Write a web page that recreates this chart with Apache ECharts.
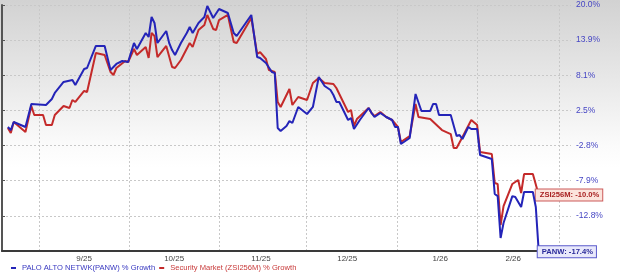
<!DOCTYPE html>
<html>
<head>
<meta charset="utf-8">
<script src="https://cdn.jsdelivr.net/npm/echarts@6/dist/echarts.min.js"></script>
<style>
html,body{margin:0;padding:0;background:#fff;}
#chart{width:620px;height:280px;}
</style>
</head>
<body>
<div id="chart"></div>
<script>
// ---- data (day number since Aug 19, 2025; % growth) ----
const panwDays = [2,3,4,8,10,15,17,18,21,24,25,28,29,32,35,37,38,39,41,43,45,46,49,50,51,52,53,56,57,58,59,61,63,64,65,67,69,70,72,74,77,79,80,85,87,88,90,92,93,94,95,97,98,99,101,104,106,108,110,112,113,114,115,118,119,120,122,125,126,127,129,131,133,134,135,136,139,141,143,146,147,148,149,153,155,156,157,159,160,162,163,167,168,169,170,171,174,175,177,178,181,182,183];
const panwValues = [-0.24,-0.70,0.52,-0.24,3.30,3.14,4.08,5.03,6.80,7.12,6.31,8.92,9.08,12.78,12.78,8.75,9.25,9.75,10.24,10.08,13.29,12.26,15.02,14.32,17.84,16.77,13.29,15.37,13.29,12.09,11.25,13.29,15.02,16.07,15.02,16.77,17.84,19.82,17.66,19.27,18.56,15.02,14.50,18.20,10.91,10.75,9.91,8.42,8.26,-0.40,-0.85,-0.09,0.67,0.36,2.83,1.74,2.83,7.61,6.15,5.51,4.71,3.61,3.61,0.82,1.13,-0.55,0.82,2.67,1.90,1.28,1.90,1.28,0.82,-0.24,-0.24,-2.78,-1.89,4.87,2.21,2.21,3.30,3.30,1.59,1.59,-1.60,-1.45,-2.04,-0.24,-0.55,-0.55,-4.39,-4.97,-9.87,-10.15,-15.68,-13.74,-10.15,-10.28,-11.63,-9.60,-9.60,-11.63,-17.4];

const zsiDays = [2,3,4,8,10,11,14,15,17,18,21,23,24,25,28,29,32,35,37,38,39,42,43,45,46,49,50,51,52,53,56,58,59,61,64,65,67,69,70,72,73,74,77,79,80,85,87,88,90,91,93,94,95,98,99,101,104,106,108,110,113,114,118,119,120,121,125,126,127,129,131,133,135,136,139,141,142,146,150,153,154,155,157,160,162,163,167,168,169,170,171,174,176,177,178,181,183];
const zsiValues = [-0.40,-1.15,0.52,-1.00,2.98,1.59,1.59,0.06,0.06,1.59,2.98,2.67,3.92,3.61,5.35,5.19,11.59,11.25,8.42,7.93,9.08,10.24,10.08,12.26,11.25,12.61,10.75,15.02,14.50,10.91,12.78,9.25,9.08,10.41,13.29,12.61,15.54,16.42,18.20,15.72,15.54,17.30,18.20,13.46,13.29,17.66,11.42,11.75,10.58,8.75,8.42,3.61,2.83,5.67,3.14,4.39,3.92,6.63,7.44,6.63,6.47,5.83,2.05,2.36,-0.09,0.97,2.67,1.90,1.44,2.05,1.28,0.82,-0.24,-2.48,-1.60,3.30,1.28,0.97,-0.70,-1.30,-3.37,-3.37,-1.75,0.82,0.06,-3.95,-4.24,-8.35,-8.49,-14.00,-11.50,-8.49,-7.94,-9.73,-7.10,-7.10,-10.0];

const seriesNames = ['PALO ALTO NETWK(PANW) % Growth', 'Security Market (ZSI256M) % Growth'];
const endTags = ['PANW', 'ZSI256M'];
const yTickLabels = ['', '-12.8%', '-7.9%', '-2.8%', '2.5%', '8.1%', '13.9%', '20.0%'];
const xTickLabels = ['9/25', '10/25', '11/25', '12/25', '1/26', '2/26'];
const xLabelDays = [28.0, 58.7, 88.3, 117.7, 149.4, 174.3];
const monthStartDays = [12.7, 43.5, 74.1, 103.8, 134.9, 162.2, 189.9];

// log-growth scale: tick k sits at ln(1+p) = LOG_BASE + k*LOG_STEP
const LOG_BASE = -0.19019;
const LOG_STEP = 0.053215;
function toAxis(p) { return (Math.log(1 + p / 100) - LOG_BASE) / LOG_STEP; }
function pairs(days, vals) { return days.map((d, i) => [d, toAxis(vals[i])]); }

const BLUE = '#2424b8', RED = '#c42a2a';
const FONT = '"Liberation Sans", Arial, sans-serif';

const chart = echarts.init(document.getElementById('chart'), null, {renderer: 'canvas'});
chart.setOption({
  animation: false,
  backgroundColor: {
    type: 'linear', x: 0, y: 0, x2: 0, y2: 1,
    colorStops: [{offset: 0, color: '#d2d2d2'}, {offset: 0.3, color: '#e9e9e9'}, {offset: 0.52, color: '#fbfbfb'}, {offset: 0.6, color: '#ffffff'}, {offset: 1, color: '#ffffff'}]
  },
  grid: {left: 2, right: 49, top: 5, bottom: 29, outerBoundsMode: 'none', containLabel: false},
  legend: {
    left: 11, top: 264, itemWidth: 5, itemHeight: 2, itemGap: 4, padding: 0,
    icon: 'rect',
    textStyle: {fontFamily: FONT, fontSize: 7.6, padding: [0, 0, 0, 1]},
    data: [
      {name: seriesNames[0], textStyle: {color: '#3838c0'}},
      {name: seriesNames[1], textStyle: {color: '#c83a3a'}}
    ]
  },
  xAxis: {
    type: 'value', min: 0, max: 194,
    axisLine: {show: true, lineStyle: {color: '#3a3a3a', width: 2}},
    axisTick: {show: false, customValues: monthStartDays},
    splitLine: {show: true, lineStyle: {color: '#c8c8c8', type: [2, 2], width: 1}},
    axisLabel: {
      customValues: xLabelDays,
      margin: 4, color: '#444', fontFamily: FONT, fontSize: 8,
      formatter: function (v) {
        let best = 0;
        xLabelDays.forEach((d, i) => { if (Math.abs(d - v) < Math.abs(xLabelDays[best] - v)) best = i; });
        return xTickLabels[best];
      }
    }
  },
  yAxis: {
    type: 'value', position: 'right', min: 0, max: 7, interval: 1,
    axisLine: {show: true, lineStyle: {color: '#555', width: 2}},
    axisTick: {show: true, length: 3, inside: false, lineStyle: {color: '#555', width: 1}},
    splitLine: {show: true, lineStyle: {color: '#c8c8c8', type: [2, 2], width: 1}},
    axisLabel: {
      showMinLabel: false, margin: 5, color: '#4646c4', fontFamily: FONT, fontSize: 8.5,
      formatter: function (v) { return yTickLabels[Math.round(v)] || ''; }
    }
  },
  series: [
    {
      name: seriesNames[1], type: 'line', data: pairs(zsiDays, zsiValues),
      showSymbol: false, symbol: 'none', color: RED, z: 2,
      lineStyle: {color: RED, width: 2},
      endLabel: {
        show: true, distance: 0, offset: [-3, 0],
        formatter: function () { return endTags[1] + ': ' + zsiValues[zsiValues.length - 1].toFixed(1) + '%'; },
        fontFamily: FONT, fontSize: 7.6, fontWeight: 'bold', color: '#a82222',
        backgroundColor: '#fbe4dc', borderColor: '#cc5a5a', borderWidth: 1, padding: [2, 3, 1, 4]
      }
    },
    {
      name: seriesNames[0], type: 'line', data: pairs(panwDays, panwValues),
      showSymbol: false, symbol: 'none', color: BLUE, z: 3,
      lineStyle: {color: BLUE, width: 2},
      endLabel: {
        show: true, distance: 0, offset: [-1, 0],
        formatter: function () { return endTags[0] + ': ' + panwValues[panwValues.length - 1].toFixed(1) + '%'; },
        fontFamily: FONT, fontSize: 7.6, fontWeight: 'bold', color: '#2a2a9a',
        backgroundColor: '#e8e8fb', borderColor: '#5a5acc', borderWidth: 1, padding: [2, 3, 1, 4]
      }
    }
  ]
});
</script>
</body>
</html>
